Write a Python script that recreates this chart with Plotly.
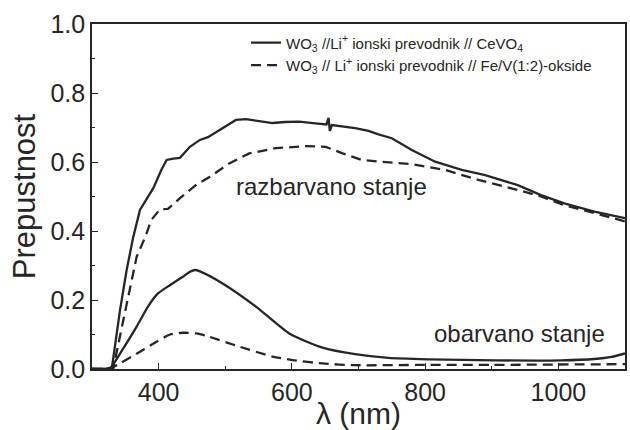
import plotly.graph_objects as go

# Transmittance spectra of two electrochromic devices, bleached and coloured state
wl_cevo_bleached = [300, 320, 330, 342, 352, 362, 372, 384, 392, 404, 412, 422, 432, 447,
                    462, 474, 484, 500, 516, 531, 550, 571, 590, 611, 635, 652, 655, 657,
                    660, 675, 695, 715, 730, 750, 780, 815, 855, 890, 939, 974, 1009, 1054, 1100]
t_cevo_bleached = [0.0, 0.0, 0.005, 0.17, 0.287, 0.383, 0.461, 0.50, 0.524, 0.577, 0.606, 0.61,
                   0.612, 0.644, 0.664, 0.672, 0.684, 0.705, 0.722, 0.724, 0.718, 0.713, 0.716,
                   0.717, 0.712, 0.709, 0.728, 0.69, 0.707, 0.703, 0.698, 0.69, 0.68, 0.669,
                   0.635, 0.601, 0.577, 0.562, 0.533, 0.504, 0.48, 0.456, 0.437]

wl_fev_bleached = [300, 320, 332, 345, 357, 367, 380, 389, 402, 414, 432, 447, 457, 477, 506,
                   536, 576, 621, 651, 676, 705, 730, 780, 830, 880, 939, 974, 1009, 1054, 1100]
t_fev_bleached = [0.0, 0.0, 0.002, 0.123, 0.239, 0.325, 0.383, 0.432, 0.463, 0.464, 0.495,
                  0.519, 0.535, 0.557, 0.596, 0.625, 0.64, 0.646, 0.644, 0.625, 0.606, 0.601,
                  0.594, 0.577, 0.548, 0.519, 0.50, 0.475, 0.452, 0.428]

wl_cevo_colored = [300, 318, 327, 347, 367, 384, 399, 417, 437, 447, 455, 462, 496, 546, 596,
                   646, 695, 745, 805, 905, 1004, 1054, 1080, 1100]
t_cevo_colored = [0.0, 0.0, 0.002, 0.06, 0.123, 0.181, 0.219, 0.243, 0.268, 0.282, 0.287,
                  0.283, 0.248, 0.181, 0.103, 0.062, 0.043, 0.032, 0.028, 0.025, 0.025, 0.029,
                  0.035, 0.045]

wl_fev_colored = [300, 325, 342, 372, 397, 417, 437, 457, 472, 521, 571, 601, 646, 695, 800,
                  900, 1000, 1100]
t_fev_colored = [0.0, 0.0, 0.016, 0.05, 0.079, 0.10, 0.105, 0.103, 0.096, 0.065, 0.036,
                 0.026, 0.016, 0.011, 0.012, 0.012, 0.013, 0.014]

name_cevo = "WO<sub>3</sub> //Li<sup>+</sup> ionski prevodnik // CeVO<sub>4</sub>"
name_fev = "WO<sub>3</sub> // Li<sup>+</sup> ionski prevodnik // Fe/V(1:2)-okside"

x_ticks = [400, 600, 800, 1000]
y_ticks = [0.0, 0.2, 0.4, 0.6, 0.8, 1.0]

INK = "#262626"
FONT = "Liberation Sans, Arial, sans-serif"
DASH = "10px,6px"
LW = 2.3

fig = go.Figure()
fig.add_trace(go.Scatter(x=wl_cevo_bleached, y=t_cevo_bleached, mode="lines", name=name_cevo,
                         line=dict(color=INK, width=LW), legendgroup="cevo"))
fig.add_trace(go.Scatter(x=wl_fev_bleached, y=t_fev_bleached, mode="lines", name=name_fev,
                         line=dict(color=INK, width=LW, dash=DASH), legendgroup="fev"))
fig.add_trace(go.Scatter(x=wl_cevo_colored, y=t_cevo_colored, mode="lines", showlegend=False,
                         line=dict(color=INK, width=LW, shape="spline", smoothing=0.6),
                         legendgroup="cevo"))
fig.add_trace(go.Scatter(x=wl_fev_colored, y=t_fev_colored, mode="lines", showlegend=False,
                         line=dict(color=INK, width=LW, dash=DASH, shape="spline", smoothing=0.6),
                         legendgroup="fev"))

fig.add_annotation(x=660, y=0.528, text="razbarvano stanje", showarrow=False,
                   font=dict(family=FONT, size=24, color=INK))
fig.add_annotation(x=942, y=0.104, text="obarvano stanje", showarrow=False,
                   font=dict(family=FONT, size=24, color=INK))

axis_common = dict(showline=True, linecolor=INK, linewidth=1.6, mirror=True,
                   ticks="inside", ticklen=6, tickwidth=1.3, tickcolor=INK,
                   showgrid=False, zeroline=False,
                   tickfont=dict(family=FONT, size=25, color=INK))

fig.update_xaxes(range=[300, 1100], tickvals=x_ticks, ticktext=[str(v) for v in x_ticks],
                 minor=dict(dtick=100, tick0=300, ticks="inside", ticklen=3, tickcolor=INK),
                 title=dict(text="λ (nm)", font=dict(family=FONT, size=30, color=INK), standoff=0),
                 **axis_common)
fig.update_yaxes(range=[0, 1.0], tickvals=y_ticks, ticktext=[f"{v:.1f}" for v in y_ticks],
                 minor=dict(dtick=0.1, tick0=0, ticks="inside", ticklen=3, tickcolor=INK),
                 title=dict(text="Prepustnost", font=dict(family=FONT, size=31, color=INK), standoff=6),
                 **axis_common)

fig.update_layout(
    width=630, height=430,
    margin=dict(l=92, r=3, t=24, b=61),
    paper_bgcolor="white", plot_bgcolor="white",
    font=dict(family=FONT, color=INK),
    legend=dict(x=0.289, y=0.993, xanchor="left", yanchor="top",
                font=dict(family=FONT, size=15, color=INK),
                bgcolor="rgba(0,0,0,0)", itemwidth=30, tracegroupgap=0),
)

fig.write_html("out.html")
